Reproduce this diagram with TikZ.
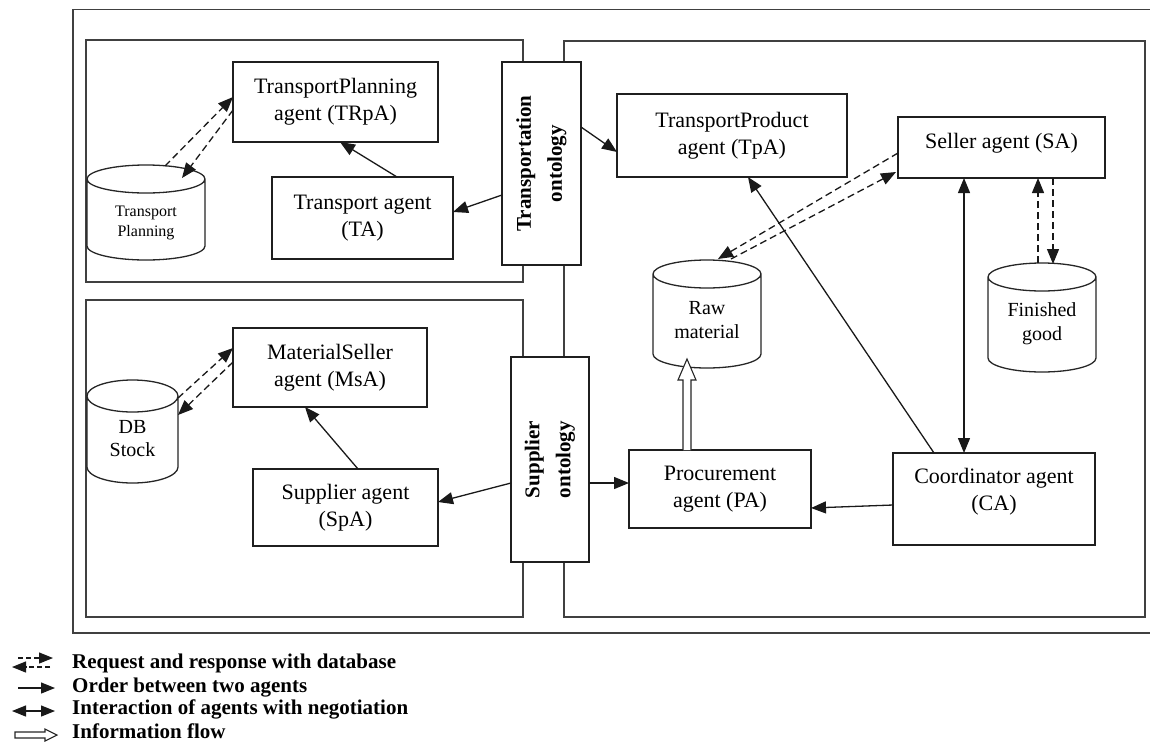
\documentclass[tikz,border=0pt]{standalone}
\usepackage{fontspec}
\setmainfont{Liberation Serif}
\usetikzlibrary{arrows.meta,calc}

% outline of a database store: #1 node name, #2 half-height of its ellipses (pt)
\newcommand\storeoutline[2]{%
  \draw[storeline] let \p1=(#1.north west), \p2=(#1.south east), \n1={(\x2-\x1)/2} in
    ($(#1.north)+(0,#2)$) ellipse[x radius=\n1, y radius=#2pt]
    (\x1,\y1-#2pt) -- (\x1,\y2+#2pt)
    arc[start angle=180,end angle=360,x radius=\n1,y radius=#2pt]
    -- (\x2,\y1-#2pt);}

\begin{document}
\begin{tikzpicture}[x=1pt,y=-1pt,
  frame/.style={draw=black!75,line width=1.5pt},
  agent/.style={draw=black!88,line width=1.4pt,fill=white,inner sep=0pt,outer sep=0pt,
    align=center,text=black,font=\fontsize{22}{27}\selectfont},
  ontobox/.style={draw=black!88,line width=1.4pt,fill=white,inner sep=0pt,outer sep=0pt},
  ontotext/.style={align=center,inner sep=0pt,text=black,font=\bfseries\fontsize{21}{31}\selectfont},
  store/.style={inner sep=0pt,outer sep=0pt},
  storeline/.style={draw=black!85,line width=1.3pt,fill=white},
  storetext/.style={align=center,inner sep=0pt,text=black,font=\fontsize{20}{23.5}\selectfont},
  link/.style={draw=black!90,line width=1.3pt},
  order/.style={link,-{Triangle[length=15pt,width=12pt]}},
  nego/.style={link,{Triangle[length=15pt,width=12pt]}-{Triangle[length=15pt,width=12pt]}},
  dbreq/.style={link,dash pattern=on 7pt off 4pt,-{Triangle[length=15pt,width=12pt]}},
  flow/.style={draw=black!85,line width=1.1pt,fill=white},
  legendtip/.style={-{Triangle[length=14pt,width=11pt]}},
  legendtext/.style={anchor=base west,inner sep=0pt,text=black,font=\bfseries\fontsize{21}{24}\selectfont},
]
\useasboundingbox (0,0) rectangle (1150,745);

% enclosing frame and the three system panels
\draw[frame] (1150,9.5) -- (73,9.5) -- (73,633) -- (1150,633);
\draw[frame] (86,40) rectangle (523,282);
\draw[frame] (86,300) rectangle (523,617);
\draw[frame] (564,41) rectangle (1145,617);

% ontologies shared between the panels
\node[ontobox,minimum width=79pt,minimum height=203pt] (tont) at (541.5,163.5) {};
\node[ontotext,rotate=90] (tont-t) at (tont.center) {Transportation\\ontology};
\node[ontobox,minimum width=78pt,minimum height=205pt] (sont) at (550,459.5) {};
\node[ontotext,rotate=90] (sont-t) at (sont.center) {Supplier\\ontology};

% agents
\node[agent,minimum width=205pt,minimum height=80pt] (trpa) at (335.5,102) {TransportPlanning\\agent (TRpA)};
\node[agent,minimum width=181pt,minimum height=82pt] (ta) at (362.5,218) {Transport agent\\(TA)};
\node[agent,minimum width=230pt,minimum height=83pt] (tpa) at (732,135.5) {TransportProduct\\agent (TpA)};
\node[agent,minimum width=207pt,minimum height=61pt] (sa) at (1001.5,147.5) {};
\node (sa-t) at ($(sa.center)+(0,-4)$) [align=center,inner sep=0pt,text=black,font=\fontsize{22}{27}\selectfont] {Seller agent (SA)};
\node[agent,minimum width=194pt,minimum height=79pt] (msa) at (330,367.5) {MaterialSeller\\agent (MsA)};
\node[agent,minimum width=185pt,minimum height=77pt] (spa) at (345.5,507.5) {Supplier agent\\(SpA)};
\node[agent,minimum width=182pt,minimum height=78pt] (pa) at (720,489) {Procurement\\agent (PA)};
\node[agent,minimum width=202pt,minimum height=92pt] (ca) at (994,499) {};
\node (ca-t) at ($(ca.center)+(0,-7)$) [align=center,inner sep=0pt,text=black,font=\fontsize{22}{27}\selectfont] {Coordinator agent\\(CA)};

% databases
\node[store,minimum width=118pt,minimum height=95pt] (tp) at (146,212.5) {};
\node[store,minimum width=108pt,minimum height=108pt] (rm) at (707,314) {};
\node[store,minimum width=108pt,minimum height=109pt] (fg) at (1042,317.5) {};
\node[store,minimum width=91pt,minimum height=103pt] (db) at (132.5,431.5) {};
\storeoutline{tp}{14}
\storeoutline{rm}{14}
\storeoutline{fg}{14}
\storeoutline{db}{16}
\node[storetext,font=\fontsize{16}{20}\selectfont] (tp-t) at ($(tp.center)+(0,10)$) {Transport\\Planning};
\node[storetext] (rm-t) at ($(rm.center)+(0,6)$) {Raw\\material};
\node[storetext] (fg-t) at ($(fg.center)+(0,6)$) {Finished\\good};
\node[storetext] (db-t) at ($(db.center)+(0,7)$) {DB\\Stock};

% transport panel
\draw[dbreq] ($(tp.north)+(19,1)$) -- ($(trpa.west)+(0,-5)$);
\draw[dbreq] ($(trpa.west)+(0,8)$) -- ($(tp.north)+(36,13)$);
\draw[order] ($(ta.north)+(34.5,0)$) -- ($(trpa.south)+(4.5,0)$);
\draw[order] ($(tont.west)+(0,31.5)$) -- ($(ta.east)+(0,-6)$);
\draw[order] ($(tont.east)+(0,-36.5)$) -- ($(tpa.west)+(0,16.5)$);

% supplier panel
\draw[dbreq] ($(db.north east)+(0,18)$) -- ($(msa.west)+(0,-19.5)$);
\draw[dbreq] ($(msa.west)+(0,-5.5)$) -- ($(db.north east)+(0,35)$);
\draw[order] ($(spa.north)+(12.5,0)$) -- ($(msa.south)+(-25,0)$);
\draw[order] ($(sont.west)+(0,23.5)$) -- ($(spa.east)+(0,-5.5)$);

% manufacturer panel
\draw[order] ($(sont.east)+(0,23.5)$) -- ($(pa.west)+(0,-6)$);
\draw[order] ($(ca.west)+(0,6)$) -- ($(pa.east)+(0,19)$);
\draw[order] ($(ca.north)+(-60,0)$) -- ($(tpa.south)+(16,0)$);
\draw[nego] ($(ca.north)+(-30,0)$) -- ($(sa.south)+(-37.5,0)$);
\draw[dbreq] ($(sa.west)+(0,5.5)$) -- ($(rm.north)+(11,-1)$);
\draw[dbreq] ($(rm.north)+(24,-1)$) -- ($(sa.south west)+(-2,-6)$);
\draw[dbreq] ($(fg.north)+(-4,0)$) -- ($(sa.south)+(36.5,0)$);
\draw[dbreq] ($(sa.south)+(51.5,0)$) -- ($(fg.north)+(11,1)$);

% information flow from procurement into the raw material store
\coordinate (ifb) at ($(pa.north)+(-33,0)$);
\coordinate (ift) at ($(rm.south)+(-20,-9)$);
\draw[flow] ($(ifb)+(-4,0)$) -- ($(ift)+(-4,21)$) -- ($(ift)+(-9,21)$) -- (ift)
  -- ($(ift)+(9,21)$) -- ($(ift)+(4,21)$) -- ($(ifb)+(4,0)$);

% legend
\coordinate (l1a) at (18,658);  \coordinate (l1b) at (53,658);
\coordinate (l1c) at (50,667);  \coordinate (l1d) at (12,667);
\coordinate (l2a) at (18,688);  \coordinate (l2b) at (55,688);
\coordinate (l3a) at (12,711);  \coordinate (l3b) at (55,711);
\coordinate (l4a) at (15,735);  \coordinate (l4b) at (57,735);
\draw[link,dash pattern=on 5pt off 3pt,legendtip] (l1a) -- (l1b);
\draw[link,dash pattern=on 5pt off 3pt,legendtip] (l1c) -- (l1d);
\draw[link,legendtip] (l2a) -- (l2b);
\draw[link,{Triangle[length=14pt,width=11pt]}-{Triangle[length=14pt,width=11pt]}] (l3a) -- (l3b);
\draw[flow] ($(l4a)+(0,-3)$) -- ($(l4b)+(-12,-3)$) -- ($(l4b)+(-12,-6)$) -- (l4b)
  -- ($(l4b)+(-12,6)$) -- ($(l4b)+(-12,3)$) -- ($(l4a)+(0,3)$) -- cycle;
\node[legendtext] (lg1) at (72,668) {Request and response with database};
\node[legendtext] (lg2) at (72,692) {Order between two agents};
\node[legendtext] (lg3) at (72,714) {Interaction of agents with negotiation};
\node[legendtext] (lg4) at (72,738) {Information flow};
\end{tikzpicture}
\end{document}
